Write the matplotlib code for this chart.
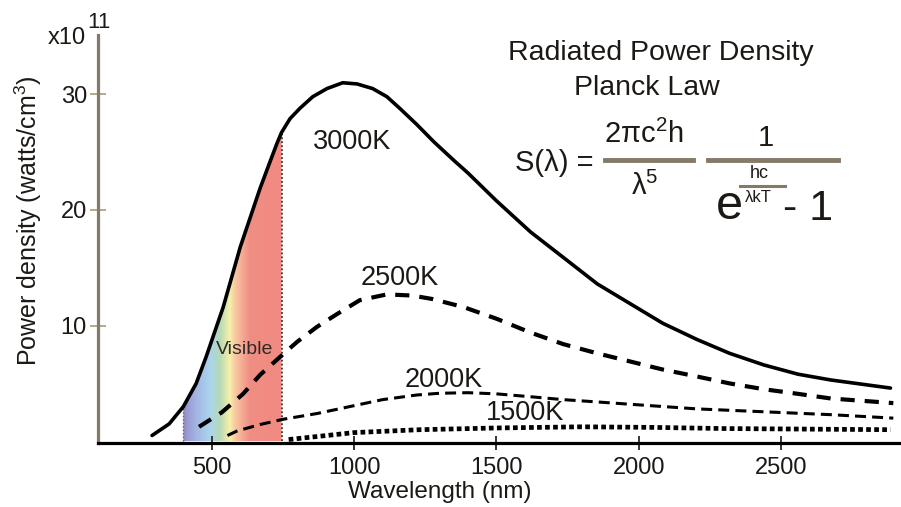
import numpy as np
import matplotlib.pyplot as plt
from matplotlib.colors import LinearSegmentedColormap
from matplotlib.lines import Line2D
from matplotlib.patches import Polygon

plt.rcParams['font.family'] = ['Liberation Sans', 'DejaVu Sans']
plt.rcParams['mathtext.fontset'] = 'custom'
plt.rcParams['mathtext.rm'] = 'Liberation Sans'
plt.rcParams['mathtext.it'] = 'Liberation Sans'

######## curve readings (wavelength in nm, power density in 1e11 units)

lam3000 = [290, 350, 400, 445, 480, 540, 600, 670, 705, 728, 745, 775, 810, 855,
           905, 960, 1010, 1065, 1115, 1160, 1220, 1280, 1350, 1400, 1500, 1620,
           1735, 1855, 1970, 2085, 2205, 2320, 2440, 2560, 2675, 2885]
s3000 = [0.5, 1.5, 3.0, 5.0, 7.3, 11.6, 16.8, 21.9, 24.2, 25.7, 26.7, 27.9, 28.8,
         29.8, 30.5, 31.0, 30.9, 30.5, 29.8, 28.8, 27.4, 25.9, 24.3, 23.2, 20.8,
         18.1, 15.9, 13.6, 11.9, 10.2, 8.8, 7.6, 6.6, 5.8, 5.3, 4.6]

lam2500 = [455, 535, 610, 670, 740, 800, 870, 940, 1020, 1115, 1205, 1275, 1385,
           1500, 1620, 1735, 1855, 1970, 2085, 2205, 2320, 2440, 2560, 2675, 2895]
s2500 = [1.25, 2.5, 4.1, 5.75, 7.3, 8.6, 9.9, 11.0, 12.2, 12.7, 12.6, 12.3, 11.6,
         10.6, 9.4, 8.4, 7.6, 6.9, 6.2, 5.6, 5.0, 4.5, 4.1, 3.7, 3.3]

lam2000 = [555, 590, 670, 750, 870, 985, 1100, 1220, 1300, 1400, 1500, 1620, 1735,
           1855, 1970, 2205, 2440, 2675, 2895]
s2000 = [0.5, 0.9, 1.45, 1.9, 2.4, 3.0, 3.6, 4.0, 4.15, 4.2, 4.1, 3.85, 3.6, 3.4,
         3.2, 2.8, 2.55, 2.3, 2.0]

lam1500 = [770, 1000, 1230, 1500, 1800, 2050, 2300, 2600, 2885]
s1500 = [0.15, 0.75, 1.0, 1.15, 1.25, 1.2, 1.1, 1.05, 1.0]

curve_labels = ['3000K', '2500K', '2000K', '1500K']

# visible band colours
band_nm = [400, 418, 450, 493, 528, 563, 584, 616, 633, 745]
band_colors = ['#8e8cc6', '#9c9ed6', '#a4b8e4', '#aad4ee', '#b6d9b6', '#f6f0a8',
               '#f8c6a0', '#f4a090', '#f08e84', '#f28a80']

xticks = [500, 1000, 1500, 2000, 2500]
yticks = [10, 20, 30]

W, H = 901, 507
ink = '#1c1915'
axis_brown = '#857a68'


def px(x, y):
    return x / W, 1 - y / H


fig = plt.figure(figsize=(W / 100, H / 100), dpi=100)
ax = fig.add_axes([98 / W, (H - 443) / H, (W - 98) / W, (443 - 35) / H])
ax.set_xlim(100, 2922)
ax.set_ylim(-0.15, 35.13)

# rainbow fill under the 3000K curve
lam = np.array(lam3000)
s = np.array(s3000)
vis = (lam >= band_nm[0]) & (lam <= band_nm[-1])
span = band_nm[-1] - band_nm[0]
cmap = LinearSegmentedColormap.from_list(
    'vis', [((b - band_nm[0]) / span, c) for b, c in zip(band_nm, band_colors)])
grad = np.linspace(0, 1, 400).reshape(1, -1)
im = ax.imshow(grad, cmap=cmap, aspect='auto', origin='lower',
               extent=(band_nm[0], band_nm[-1], 0, s.max()), zorder=1)
verts = list(zip(lam[vis], s[vis])) + [(band_nm[-1], 0), (band_nm[0], 0)]
clip = Polygon(verts, closed=True, facecolor='none', edgecolor='none',
               transform=ax.transData)
ax.add_patch(clip)
im.set_clip_path(clip)
ax.vlines(band_nm[-1], 0, s[lam == band_nm[-1]][0], colors='#3a3530',
          linestyles=(0, (1, 1.2)), lw=1.3, zorder=2)
ax.vlines(band_nm[0], 0, s[lam == band_nm[0]][0], colors='#6a6258',
          linestyles=(0, (1, 1.5)), lw=1.0, zorder=2)

# the four blackbody curves
ax.plot(lam3000, s3000, color='black', lw=2.6, solid_capstyle='round',
        solid_joinstyle='round', zorder=3)
ax.plot(lam2500, s2500, color='black', lw=3.0, ls=(0, (3.4, 2.4)), zorder=3)
ax.plot(lam2000, s2000, color='black', lw=2.2, ls=(0, (3.6, 2.0)), zorder=3)
ax.plot(lam1500, s1500, color='black', lw=3.4, ls=(0, (1.0, 0.7)), zorder=3)

for sp in ['top', 'right']:
    ax.spines[sp].set_visible(False)
ax.spines['left'].set_color(axis_brown)
ax.spines['left'].set_linewidth(2.3)
ax.spines['bottom'].set_color('black')
ax.spines['bottom'].set_linewidth(2.3)
ax.spines['bottom'].set_zorder(4)

ax.set_xticks(xticks)
ax.set_yticks(yticks)
ax.tick_params(axis='x', direction='inout', length=10, width=1.4,
               color='#3a3530', labelsize=17, labelcolor=ink, pad=5)
ax.tick_params(axis='y', direction='inout', length=12, width=1.4,
               color='#b8a98c', labelsize=17, labelcolor=ink, pad=2)

ax.set_xlabel('Wavelength (nm)', fontsize=17.5, color=ink, va='center')
ax.xaxis.set_label_coords((440 - 98) / (W - 98), -(492 - 443) / (443 - 35))
ax.set_ylabel('Power density (watts/cm$^{3}$)', fontsize=18, color=ink,
              va='center')
ax.yaxis.set_label_coords((28 - 98) / (W - 98), (443 - 221) / (443 - 35))

fig.text(*px(86, 38), 'x10', fontsize=17, color=ink, ha='right', va='center')
fig.text(*px(87, 22), '11', fontsize=16, color=ink, ha='left', va='center')

# curve names
fig.text(*px(352, 142), curve_labels[0], fontsize=19.5, color=ink,
         ha='center', va='center')
fig.text(*px(400, 278), curve_labels[1], fontsize=19.5, color=ink,
         ha='center', va='center')
fig.text(*px(444, 380), curve_labels[2], fontsize=19.5, color=ink,
         ha='center', va='center')
fig.text(*px(525, 413), curve_labels[3], fontsize=19.5, color=ink,
         ha='center', va='center')
fig.text(*px(245, 350), 'Visible', fontsize=14, color='#2e2a26',
         ha='center', va='center', zorder=5)

# title and formula
fig.text(*px(661, 53), 'Radiated Power Density', fontsize=20.5, color=ink,
         ha='center', va='center')
fig.text(*px(647, 88), 'Planck Law', fontsize=20.5, color=ink,
         ha='center', va='center')

fig.text(*px(554, 163), 'S(λ) =', fontsize=21, color=ink, ha='center',
         va='center')
fig.add_artist(Line2D([605 / W, 693 / W], [1 - 160 / H] * 2, color=axis_brown,
                      lw=3.5))
fig.text(*px(644, 134), r'$\mathrm{2\pi c^2 h}$', fontsize=21, color=ink,
         ha='center', va='center')
fig.text(*px(645, 186), r'$\mathrm{\lambda^5}$', fontsize=21, color=ink,
         ha='center', va='center')

fig.add_artist(Line2D([708 / W, 838 / W], [1 - 160 / H] * 2, color=axis_brown,
                      lw=3.5))
fig.text(*px(766, 138), '1', fontsize=21, color=ink, ha='center', va='center')
fig.text(*px(729, 206), 'e', fontsize=35, color=ink, ha='center', va='center')
fig.text(*px(759, 174), 'hc', fontsize=13, color=ink, ha='center', va='center')
fig.add_artist(Line2D([740 / W, 785 / W], [1 - 186 / H] * 2, color=axis_brown,
                      lw=2.2))
fig.text(*px(758, 197), 'λkT', fontsize=12, color=ink, ha='center',
         va='center')
fig.text(*px(808, 209), '- 1', fontsize=31, color=ink, ha='center',
         va='center')

fig.savefig('out.png', dpi=100)
